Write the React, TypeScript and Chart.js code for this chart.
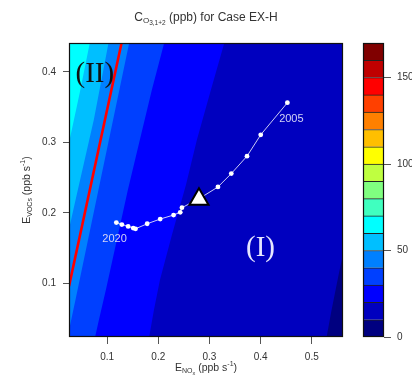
import React, { useEffect, useRef } from 'react';
import { Chart, registerables } from 'chart.js';

Chart.register(...registerables);

const SANS = '"Liberation Sans", Arial, sans-serif';
const SERIF = '"Liberation Serif", "Times New Roman", serif';

// axis extents and ticks
const X_MIN = 0.0255;
const X_MAX = 0.561;
const Y_MIN = 0.024;
const Y_MAX = 0.441;
const X_TICKS = [0.1, 0.2, 0.3, 0.4, 0.5];
const Y_TICKS = [0.1, 0.2, 0.3, 0.4];

// colour scale (ppb)
const LEVELS = [0, 10, 20, 30, 40, 50, 60, 70, 80, 90, 100, 110, 120, 130, 140, 150, 160, 170];
const LEVEL_COLORS = [
  '#000080', '#0000BF', '#0000FF', '#0040FF', '#0080FF', '#00BFFF', '#00FFFF',
  '#40FFBF', '#80FF80', '#BFFF40', '#FFFF00', '#FFBF00', '#FF8000', '#FF4000',
  '#FF0000', '#BF0000', '#800000',
];
const COLORBAR_TICKS = [0, 50, 100, 150];

// contour lines (x, y), listed bottom to top; value of the field left of each line
const CONTOUR_60 = [[X_MIN, 0.2994], [0.0465, 0.3706], [0.0661, Y_MAX]];
const CONTOUR_50 = [[X_MIN, 0.1771], [0.0427, 0.2326], [0.074, 0.3322], [0.1027, Y_MAX]];
const CONTOUR_40 = [[X_MIN, 0.0334], [0.038, 0.0761], [0.083, 0.2326], [0.1431, Y_MAX]];
const CONTOUR_30 = [[0.0765, Y_MIN], [0.0838, 0.0478], [0.0975, 0.0905], [0.119, 0.1615], [0.1405, 0.2326], [0.164, 0.3037], [0.1875, 0.3748], [0.2115, Y_MAX]];
const CONTOUR_20 = [[0.1822, Y_MIN], [0.1914, 0.0619], [0.2031, 0.1046], [0.2266, 0.1686], [0.254, 0.2397], [0.2755, 0.3037], [0.3029, 0.3748], [0.329, Y_MAX]];
const CONTOUR_10 = [[0.529, Y_MIN], [0.5378, 0.059], [0.5456, 0.0875], [0.5534, 0.1159], [X_MAX, 0.1415]];
const CONTOURS = [CONTOUR_60, CONTOUR_50, CONTOUR_40, CONTOUR_30, CONTOUR_20, CONTOUR_10];
const CONTOUR_LEVELS = [60, 50, 40, 30, 20, 10];
const BACKGROUND_LEVEL = 60;

// regime boundary (red line)
const RIDGE_X = [X_MIN, 0.1282];
const RIDGE_Y = [0.096, Y_MAX];

// emission trajectory 2005 -> 2020
const YEARS = [2005, 2006, 2007, 2008, 2009, 2010, 2011, 2012, 2013, 2014, 2015, 2016, 2017, 2018, 2019, 2020];
const TRAJ_X = [0.4523, 0.4002, 0.3734, 0.3427, 0.3166, 0.2805, 0.2462, 0.2429, 0.2299, 0.2037, 0.1783, 0.1556, 0.1509, 0.1411, 0.1288, 0.118];
const TRAJ_Y = [0.3563, 0.3108, 0.2805, 0.2558, 0.2368, 0.2205, 0.2074, 0.2009, 0.197, 0.1913, 0.1846, 0.1775, 0.1785, 0.1809, 0.1835, 0.1863];

// base case marker
const BASE_X = [0.2795];
const BASE_Y = [0.2194];

// annotations in data coordinates
const YEAR_LABELS = [
  { text: '2005', x: 0.4601, y: 0.3336 },
  { text: '2020', x: 0.1145, y: 0.1629 },
];
const REGIME_LABELS = [
  { text: '(II)', x: 0.0759, y: 0.3962, color: '#111111' },
  { text: '(I)', x: 0.3998, y: 0.1496, color: '#E6E6FF' },
];

type Part = { t: string; size: number; dy: number };

const TITLE_PARTS: Part[] = [
  { t: 'C', size: 12, dy: 0 },
  { t: 'O', size: 8, dy: 2.5 },
  { t: '3,1+2', size: 6.5, dy: 4 },
  { t: ' (ppb) for Case EX-H', size: 12, dy: 0 },
];
const X_LABEL_PARTS: Part[] = [
  { t: 'E', size: 10.5, dy: 0 },
  { t: 'NO', size: 7, dy: 2.5 },
  { t: 'x', size: 5.5, dy: 4 },
  { t: ' (ppb s', size: 10.5, dy: 0 },
  { t: '-1', size: 7, dy: -4.5 },
  { t: ')', size: 10.5, dy: 0 },
];
const Y_LABEL_PARTS: Part[] = [
  { t: 'E', size: 10.5, dy: 0 },
  { t: 'VOCs', size: 7, dy: 2.5 },
  { t: ' (ppb s', size: 10.5, dy: 0 },
  { t: '-1', size: 7, dy: -4.5 },
  { t: ')', size: 10.5, dy: 0 },
];

function colorOf(level: number) {
  return LEVEL_COLORS[LEVELS.indexOf(level)];
}

function regionRightOf(line: number[][]) {
  const pts = line.map(([x, y]) => ({ x, y }));
  const last = line[line.length - 1];
  if (last[1] >= Y_MAX - 1e-9) pts.push({ x: X_MAX, y: Y_MAX });
  pts.push({ x: X_MAX, y: Y_MIN });
  if (line[0][0] <= X_MIN + 1e-9) pts.push({ x: X_MIN, y: Y_MIN });
  return pts;
}

function drawRich(ctx: CanvasRenderingContext2D, parts: Part[], x: number, y: number, color: string) {
  let w = 0;
  for (const p of parts) {
    ctx.font = `${p.size}px ${SANS}`;
    w += ctx.measureText(p.t).width;
  }
  let cx = x - w / 2;
  ctx.fillStyle = color;
  ctx.textAlign = 'left';
  ctx.textBaseline = 'alphabetic';
  for (const p of parts) {
    ctx.font = `${p.size}px ${SANS}`;
    ctx.fillText(p.t, cx, y + p.dy);
    cx += ctx.measureText(p.t).width;
  }
}

const framePlugin = {
  id: 'frame',
  afterDatasetsDraw(chart: any) {
    const { ctx, chartArea: a } = chart;
    ctx.save();
    ctx.strokeStyle = '#111';
    ctx.lineWidth = 1.2;
    ctx.strokeRect(a.left + 0.5, a.top + 0.5, a.right - a.left - 1, a.bottom - a.top - 1);
    ctx.restore();
  },
};

const textPlugin = {
  id: 'texts',
  afterDraw(chart: any) {
    const { ctx, chartArea: a, scales } = chart;
    const xs = scales.x;
    const ys = scales.y;
    const cx = (a.left + a.right) / 2;
    const cy = (a.top + a.bottom) / 2;
    ctx.save();
    drawRich(ctx, TITLE_PARTS, cx, 20.5, '#333');
    drawRich(ctx, X_LABEL_PARTS, cx, 370.5, '#333');
    ctx.save();
    ctx.translate(29.5, cy);
    ctx.rotate(-Math.PI / 2);
    drawRich(ctx, Y_LABEL_PARTS, 0, 0, '#333');
    ctx.restore();

    ctx.textAlign = 'center';
    ctx.textBaseline = 'middle';
    ctx.font = `11px ${SANS}`;
    ctx.fillStyle = '#D4D4F6';
    for (const l of YEAR_LABELS) {
      ctx.fillText(l.text, xs.getPixelForValue(l.x), ys.getPixelForValue(l.y));
    }
    ctx.font = `29px ${SERIF}`;
    for (const l of REGIME_LABELS) {
      ctx.fillStyle = l.color;
      ctx.fillText(l.text, xs.getPixelForValue(l.x), ys.getPixelForValue(l.y));
    }
    ctx.restore();
  },
};

export default function App() {
  const mainRef = useRef<HTMLCanvasElement | null>(null);
  const barRef = useRef<HTMLCanvasElement | null>(null);

  useEffect(() => {
    const bands: any[] = [
      {
        data: regionRightOf([[X_MIN, Y_MIN], [X_MIN, Y_MAX]]),
        backgroundColor: colorOf(BACKGROUND_LEVEL),
        fill: 'shape',
        borderWidth: 0,
        pointRadius: 0,
        order: 100,
      },
    ];
    CONTOURS.forEach((c, i) => {
      bands.push({
        data: regionRightOf(c),
        backgroundColor: colorOf(CONTOUR_LEVELS[i] - 10),
        fill: 'shape',
        borderWidth: 0,
        pointRadius: 0,
        order: 99 - i,
      });
    });

    const main = new Chart(mainRef.current as HTMLCanvasElement, {
      type: 'line',
      data: {
        datasets: [
          ...bands,
          {
            data: RIDGE_X.map((x, i) => ({ x, y: RIDGE_Y[i] })),
            borderColor: '#FF0000',
            borderWidth: 2.6,
            pointRadius: 0,
            fill: false,
            order: 3,
          },
          {
            data: TRAJ_X.map((x, i) => ({ x, y: TRAJ_Y[i], year: YEARS[i] })),
            borderColor: 'rgba(225,225,250,0.9)',
            borderWidth: 1,
            pointRadius: 2.4,
            pointBackgroundColor: '#FFFFFF',
            pointBorderWidth: 0,
            fill: false,
            order: 2,
          },
          {
            data: BASE_X.map((x, i) => ({ x, y: BASE_Y[i] })),
            showLine: false,
            pointStyle: 'triangle',
            pointRadius: 11,
            pointBackgroundColor: '#FFFFFF',
            pointBorderColor: '#000000',
            pointBorderWidth: 2,
            fill: false,
            order: 1,
          },
        ],
      },
      options: {
        animation: false,
        responsive: false,
        maintainAspectRatio: false,
        layout: { padding: { left: 0, top: 43, right: 69, bottom: 22 } },
        plugins: {
          legend: { display: false },
          tooltip: { enabled: false },
          title: { display: false },
        },
        scales: {
          x: {
            type: 'linear',
            min: X_MIN,
            max: X_MAX,
            afterBuildTicks: (s: any) => {
              s.ticks = X_TICKS.map((v) => ({ value: v }));
            },
            afterFit: (s: any) => {
              s.height = 30;
            },
            ticks: {
              autoSkip: false,
              maxRotation: 0,
              color: '#333',
              padding: 7,
              font: { size: 10, family: SANS },
              callback: (v: any) => Number(v).toFixed(1),
            },
            grid: { drawOnChartArea: false, tickLength: 7, color: '#555', tickColor: '#555' },
            border: { display: false },
          },
          y: {
            type: 'linear',
            min: Y_MIN,
            max: Y_MAX,
            afterBuildTicks: (s: any) => {
              s.ticks = Y_TICKS.map((v) => ({ value: v }));
            },
            afterFit: (s: any) => {
              s.width = 69;
            },
            ticks: {
              autoSkip: false,
              color: '#333',
              padding: 7,
              font: { size: 10, family: SANS },
              callback: (v: any) => Number(v).toFixed(1),
            },
            grid: { drawOnChartArea: false, tickLength: 6, color: '#555', tickColor: '#555' },
            border: { display: false },
          },
        },
      } as any,
      plugins: [framePlugin, textPlugin],
    });

    const bar = new Chart(barRef.current as HTMLCanvasElement, {
      type: 'bar',
      data: {
        labels: [''],
        datasets: LEVEL_COLORS.map((c, i) => ({
          data: [LEVELS[i + 1] - LEVELS[i]],
          backgroundColor: c,
          borderColor: '#222',
          borderWidth: { top: 1, left: 0, right: 0, bottom: 0 },
          borderSkipped: 'start',
          barPercentage: 1,
          categoryPercentage: 1,
          stack: 'cb',
        })),
      },
      options: {
        animation: false,
        responsive: false,
        maintainAspectRatio: false,
        layout: { padding: { left: 8, top: 43, right: 0, bottom: 52 } },
        plugins: { legend: { display: false }, tooltip: { enabled: false } },
        scales: {
          x: { display: false, stacked: true },
          y: {
            position: 'right',
            stacked: true,
            min: LEVELS[0],
            max: LEVELS[LEVELS.length - 1],
            afterBuildTicks: (s: any) => {
              s.ticks = COLORBAR_TICKS.map((v) => ({ value: v }));
            },
            afterFit: (s: any) => {
              s.width = 28;
            },
            ticks: { color: '#333', padding: 6, font: { size: 10, family: SANS } },
            grid: { drawOnChartArea: false, tickLength: 7, color: '#555', tickColor: '#555' },
            border: { display: false },
          },
        },
      } as any,
      plugins: [framePlugin],
    });

    return () => {
      main.destroy();
      bar.destroy();
    };
  }, []);

  return (
    <div style={{ position: 'fixed', left: 0, top: 0, width: 412, height: 389, background: '#fff', overflow: 'hidden' }}>
      <canvas ref={mainRef} width={412} height={389} style={{ position: 'absolute', left: 0, top: 0 }} />
      <canvas ref={barRef} width={57} height={389} style={{ position: 'absolute', left: 355, top: 0 }} />
    </div>
  );
}
